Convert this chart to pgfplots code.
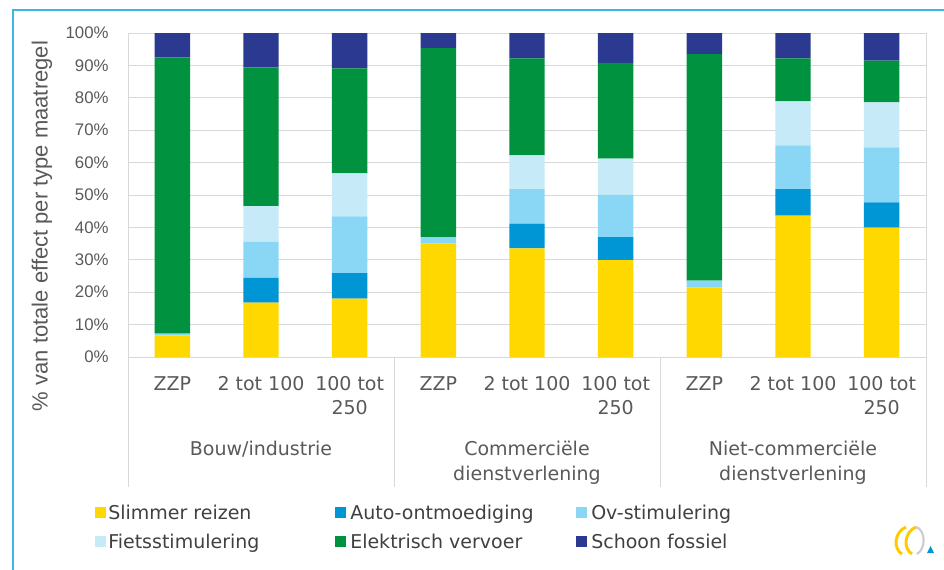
\documentclass[border=0pt]{standalone}
\usepackage{fontspec}
\setmainfont{DejaVu Sans}
\newfontfamily\arialf{Liberation Sans}
\usepackage{pgfplots}
\usepackage{pgfplotstable}
\pgfplotsset{compat=1.18}
\definecolor{cSlim}{HTML}{FFD800}
\definecolor{cAuto}{HTML}{0095D5}
\definecolor{cOv}{HTML}{8AD7F5}
\definecolor{cFiets}{HTML}{C6EAF8}
\definecolor{cElek}{HTML}{00923F}
\definecolor{cSchoon}{HTML}{2B3990}
\definecolor{cBorder}{HTML}{3DB5E6}
\definecolor{cText}{HTML}{595959}
\definecolor{cLeg}{HTML}{404040}
\definecolor{cGrid}{HTML}{D9D9D9}

\pgfplotstableread{
x slim auto ov fiets elek schoon
0 6.7  0   0.5  0    85.3 7.5
1 16.8 7.6 11.1 11.1 42.8 10.6
2 18.0 7.9 17.5 13.3 32.4 10.9
3 35.1 0   1.9  0    58.3 4.7
4 33.5 7.7 10.6 10.4 30.0 7.8
5 29.9 7.1 13.1 11.1 29.6 9.2
6 21.4 0   2.2  0    69.9 6.5
7 43.6 8.2 13.5 13.6 13.3 7.8
8 39.9 7.8 17.0 13.9 12.9 8.5
}\data

\begin{document}
\begin{tikzpicture}
\path[use as bounding box] (0,0) rectangle (708pt,-426.75pt);
\begin{axis}[
  at={(96pt,-267.75pt)}, anchor=south west,
  scale only axis, width=598.5pt, height=243pt,
  ybar stacked, bar width=26.6pt,
  xmin=-0.5, xmax=8.5, ymin=0, ymax=100,
  xtick={0,...,8},
  xticklabels={ZZP,2 tot 100,{100 tot\\250},ZZP,2 tot 100,{100 tot\\250},ZZP,2 tot 100,{100 tot\\250}},
  xticklabel style={align=center, font=\fontsize{14.25}{18}\selectfont, text=cText, yshift=-11pt},
  ytick={0,10,...,100},
  yticklabel={\pgfmathprintnumber{\tick}\%},
  yticklabel style={font=\arialf\fontsize{12.6}{14}\selectfont, text=cText, xshift=-11pt},
  /pgf/number format/assume math mode=true,
  major tick length=0pt,
  ymajorgrids, grid style={cGrid, line width=0.75pt},
  axis line style={cGrid, line width=0.75pt},
  clip=false,
]
\addplot[fill=cSlim, draw=none] table[x=x,y=slim]{\data};
\addplot[fill=cAuto, draw=none] table[x=x,y=auto]{\data};
\addplot[fill=cOv, draw=none] table[x=x,y=ov]{\data};
\addplot[fill=cFiets, draw=none] table[x=x,y=fiets]{\data};
\addplot[fill=cElek, draw=none] table[x=x,y=elek]{\data};
\addplot[fill=cSchoon, draw=none] table[x=x,y=schoon]{\data};
\end{axis}
\begin{scope}[x=0.75pt,y=-0.75pt]
  % frame
  \draw[cBorder, line width=1.5pt] (13,580) -- (13,9.5) -- (960,9.5);
  % group separators
  \foreach \xx in {128,394.3,660.7,926} {\draw[cGrid, line width=0.75pt] (\xx,357) -- (\xx,487);}
  % group labels
  \begin{scope}[every node/.style={anchor=north, inner sep=0pt, align=center, text=cText, font=\fontsize{14.25}{18.75}\selectfont}]
    \node at (261,441) {Bouw/industrie};
    \node at (527,441) {Commerciële\\dienstverlening};
    \node at (793,441) {Niet-commerciële\\dienstverlening};
  \end{scope}
  % y label
  \node[rotate=90, text=cText, font=\arialf\fontsize{16.5}{18}\selectfont] at (42,226) {\% van totale effect per type maatregel};
  % legend
  \begin{scope}[every node/.style={anchor=base west, inner sep=0pt, text=cLeg, font=\fontsize{14.25}{18}\selectfont}]
    \fill[cSlim] (95,507) rectangle (106,518);
    \node at (108,519.5) {Slimmer reizen};
    \fill[cAuto] (335,507) rectangle (346,518);
    \node at (350,519.5) {Auto-ontmoediging};
    \fill[cOv] (576,507) rectangle (587,518);
    \node at (591,519.5) {Ov-stimulering};
    \fill[cFiets] (95,536) rectangle (106,547);
    \node at (108,548.5) {Fietsstimulering};
    \fill[cElek] (335,536) rectangle (346,547);
    \node at (350,548.5) {Elektrisch vervoer};
    \fill[cSchoon] (576,536) rectangle (587,547);
    \node at (591,548.5) {Schoon fossiel};
  \end{scope}
  % logo
  \draw[cSlim!85!orange, line width=2.2pt] (906,527) .. controls (894,532) and (893,549) .. (902,554);
  \draw[cSlim!85!orange, line width=2.2pt] (916,527) .. controls (904,532) and (903,549) .. (912,554);
  \draw[gray!40, line width=1.6pt] (916,527) .. controls (926,530) and (926,549) .. (917,554);
  \fill[cAuto] (927,553) -- (934,553) -- (930.5,546) -- cycle;
\end{scope}
\end{tikzpicture}
\end{document}
